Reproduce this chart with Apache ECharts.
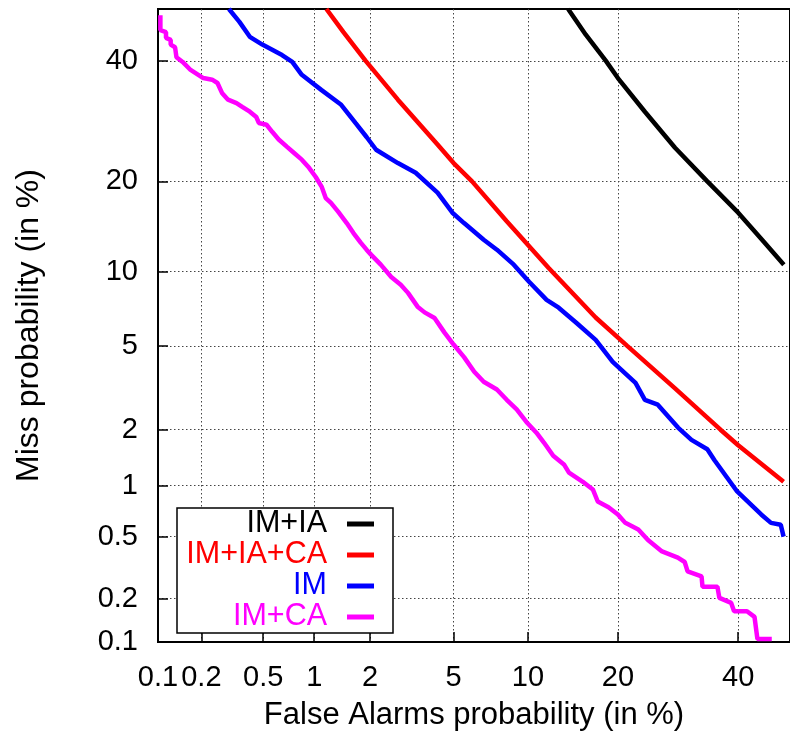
<!DOCTYPE html>
<html>
<head>
<meta charset="utf-8">
<script src="https://cdn.jsdelivr.net/npm/echarts@6/dist/echarts.min.js"></script>
<style>html,body{margin:0;padding:0;background:#fff}#c{width:790px;height:740px}</style>
</head>
<body>
<div id="c"></div>
<script>
// Tick labels (in %)
const xTicks = [0.1, 0.2, 0.5, 1, 2, 5, 10, 20, 40];
const yTicks = [0.1, 0.2, 0.5, 1, 2, 5, 10, 20, 40];
const seriesNames = ['IM+IA', 'IM+IA+CA', 'IM', 'IM+CA'];

// [false alarm %, miss %]
const imIa = [[13.9,50],[15.9,45],[18.4,40],[20,36.8],[23.9,30.8],[28.7,24.9],[34.3,20],[40,16],[44.9,12.8],[48.8,10.6]];
const imIaCa = [[1.17,50],[1.45,45.5],[1.9,40],[2.76,32.9],[4.24,25.4],[5,22.6],[6.0,20],[8.3,15],[11.9,10.3],[17.1,6.6],[21.3,5],[28.7,3.2],[36.7,2],[40,1.66],[48.75,1.05]];
const im = [[0.304,50],[0.355,47.5],[0.413,44.6],[0.494,43.1],[0.65,41.1],[0.747,39.8],[0.849,37.4],[1.1,34.6],[1.41,32.0],[1.68,28.9],[1.92,26.6],[2.15,24.6],[2.76,22.6],[3.36,21.2],[4.24,18.5],[4.94,16.0],[5.55,14.8],[6.71,13.0],[7.59,12.0],[8.84,10.6],[10.1,9.15],[11.7,7.78],[12.9,7.24],[14.8,6.28],[17.1,5.31],[19.3,4.25],[22.5,3.40],[23.9,2.82],[25.9,2.67],[29.2,2.05],[31.5,1.77],[34.3,1.58],[35.6,1.38],[39.8,0.925],[44.4,0.68],[46.3,0.606],[48.2,0.59],[48.75,0.5]];
const imCa = [[0.104,48.8],[0.104,45.9],[0.114,45.5],[0.114,44.4],[0.123,44.0],[0.123,43.1],[0.132,42.6],[0.135,40.7],[0.149,39.8],[0.169,38.3],[0.206,36.8],[0.236,36.5],[0.256,35.9],[0.274,34.1],[0.30,32.9],[0.34,32.3],[0.372,31.6],[0.413,30.8],[0.453,29.9],[0.47,28.9],[0.524,28.6],[0.569,27.4],[0.621,26.2],[0.699,25.0],[0.766,24.1],[0.849,23.1],[0.935,21.9],[1.02,20.6],[1.10,19.3],[1.16,17.8],[1.24,17.2],[1.36,16.1],[1.51,14.8],[1.64,13.7],[1.79,12.7],[1.92,12.0],[2.03,11.5],[2.27,10.6],[2.56,9.54],[2.85,8.92],[3.09,8.29],[3.43,7.31],[3.70,6.93],[4.11,6.57],[4.55,5.72],[5.0,5.07],[5.55,4.46],[6.13,3.83],[6.71,3.44],[7.59,3.16],[8.30,2.82],[9.07,2.53],[9.87,2.19],[10.75,1.93],[11.46,1.71],[12.35,1.46],[13.45,1.31],[13.99,1.18],[15.55,1.05],[16.75,0.95],[17.36,0.81],[18.74,0.75],[20.0,0.68],[21.03,0.606],[22.91,0.553],[24.37,0.477],[26.57,0.405],[29.17,0.37],[30.33,0.347],[30.83,0.302],[33.27,0.28],[33.44,0.24],[36.13,0.24],[36.49,0.202],[38.68,0.187],[39.23,0.164],[41.67,0.164],[43.11,0.15],[43.67,0.105],[46.45,0.105]];

const colors = ['#000000', '#ff0000', '#0000ff', '#ff00ff'];
const allData = [imIa, imIaCa, im, imCa];

// inverse standard normal CDF (Acklam)
function probit(p) {
  const a=[-3.969683028665376e+01,2.209460984245205e+02,-2.759285104469687e+02,1.383577518672690e+02,-3.066479806614716e+01,2.506628277459239e+00];
  const b=[-5.447609879822406e+01,1.615858368580409e+02,-1.556989798598866e+02,6.680131188771972e+01,-1.328068155288572e+01];
  const c=[-7.784894002430293e-03,-3.223964580411365e-01,-2.400758277161838e+00,-2.549732539343734e+00,4.374664141464968e+00,2.938163982698783e+00];
  const d=[7.784695709041462e-03,3.224671290700398e-01,2.445134137142996e+00,3.754408661907416e+00];
  const pl=0.02425, ph=1-pl; let q,r;
  if (p === 0.5) return 0;
  if (p < pl) { q=Math.sqrt(-2*Math.log(p)); return (((((c[0]*q+c[1])*q+c[2])*q+c[3])*q+c[4])*q+c[5])/((((d[0]*q+d[1])*q+d[2])*q+d[3])*q+1); }
  if (p <= ph) { q=p-0.5; r=q*q; return (((((a[0]*r+a[1])*r+a[2])*r+a[3])*r+a[4])*r+a[5])*q/(((((b[0]*r+b[1])*r+b[2])*r+b[3])*r+b[4])*r+1); }
  q=Math.sqrt(-2*Math.log(1-p)); return -(((((c[0]*q+c[1])*q+c[2])*q+c[3])*q+c[4])*q+c[5])/((((d[0]*q+d[1])*q+d[2])*q+d[3])*q+1);
}
const P = v => probit(v / 100);
const xTickVals = xTicks.map(P);
const yTickVals = yTicks.map(P);
function fmt(ticks) {
  return function (v) {
    for (const t of ticks) if (Math.abs(P(t) - v) < 1e-6) return String(t);
    return '';
  };
}
const FONT = 'Liberation Sans, Arial, sans-serif';

const chart = echarts.init(document.getElementById('c'), null, {renderer: 'canvas'});
const legendTop = 524, legendGap = 31;
const graphics = [{
  type: 'rect', z: 100,
  shape: {x: 177, y: 508, width: 216, height: 125},
  style: {fill: '#fff', stroke: '#000', lineWidth: 1.5}
}];
seriesNames.forEach((n, i) => {
  graphics.push({
    type: 'text', z: 101, x: 327, y: legendTop + i * legendGap,
    style: {text: n, fill: colors[i], font: '30.5px ' + FONT, textAlign: 'right', textVerticalAlign: 'middle'}
  });
  graphics.push({
    type: 'line', z: 101,
    shape: {x1: 347, y1: legendTop + i * legendGap, x2: 374, y2: legendTop + i * legendGap},
    style: {stroke: colors[i], lineWidth: 5}
  });
});

chart.setOption({
  animation: false,
  backgroundColor: '#fff',
  grid: {left: 158, top: 9, right: -6.4, bottom: 98, show: true, borderColor: '#000', borderWidth: 2, backgroundColor: 'transparent'},
  xAxis: {
    type: 'value', min: P(0.1), max: 0,
    name: 'False Alarms probability (in %)', nameLocation: 'middle', nameGap: 58,
    nameTextStyle: {fontSize: 31, fontFamily: FONT, color: '#000'},
    axisLine: {show: true, onZero: false, lineStyle: {color: '#000', width: 2}},
    axisTick: {show: true, inside: true, length: 10, customValues: xTickVals, lineStyle: {color: '#000', width: 1.5}},
    axisLabel: {customValues: xTickVals, formatter: fmt(xTicks), fontSize: 29, fontFamily: FONT, color: '#000', margin: 21, hideOverlap: false},
    splitLine: {show: true, lineStyle: {color: '#444', width: 1, type: [1.5, 2.5]}}
  },
  yAxis: {
    type: 'value', min: P(0.1), max: 0,
    name: 'Miss probability (in %)', nameLocation: 'middle', nameGap: 113, nameRotate: 90,
    nameTextStyle: {fontSize: 32, fontFamily: FONT, color: '#000'},
    axisLine: {show: true, onZero: false, lineStyle: {color: '#000', width: 2}},
    axisTick: {show: true, inside: true, length: 10, customValues: yTickVals, lineStyle: {color: '#000', width: 1.5}},
    axisLabel: {customValues: yTickVals, formatter: fmt(yTicks), fontSize: 29, fontFamily: FONT, color: '#000', margin: 20, hideOverlap: false},
    splitLine: {show: true, lineStyle: {color: '#444', width: 1, type: [1.5, 2.5]}}
  },
  series: allData.map((arr, i) => ({
    name: seriesNames[i], type: 'line', showSymbol: false, clip: true,
    data: arr.map(d => [P(d[0]), P(d[1])]),
    lineStyle: {color: colors[i], width: 4.5},
    itemStyle: {color: colors[i]},
    z: 3 + i
  })),
  graphic: graphics
});
</script>
</body>
</html>
